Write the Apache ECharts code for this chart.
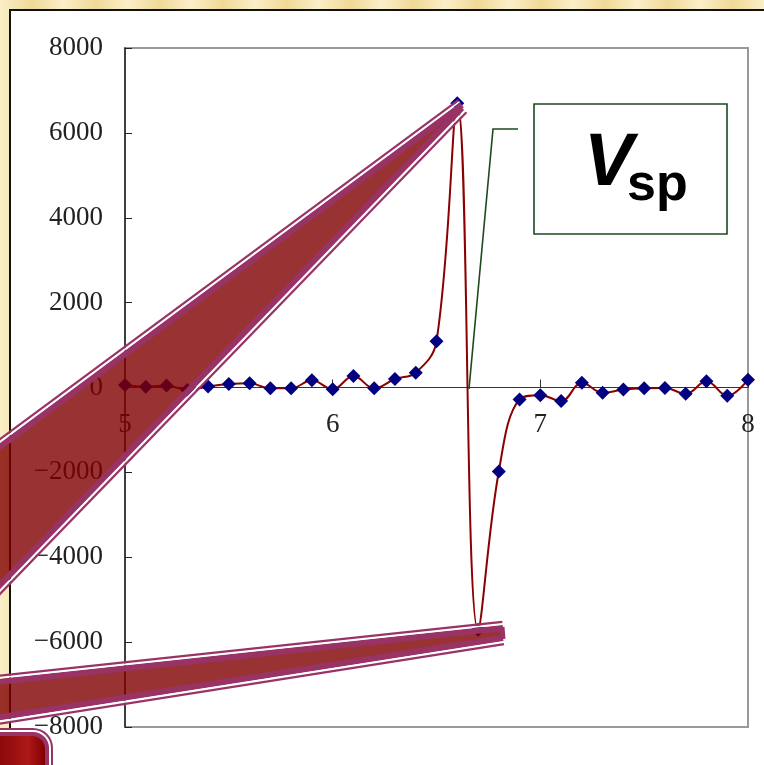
<!DOCTYPE html>
<html>
<head>
<meta charset="utf-8">
<script src="https://cdn.jsdelivr.net/npm/echarts@6/dist/echarts.min.js"></script>
<style>
html,body{margin:0;padding:0;background:#f5e3a8;}
#chart{width:764px;height:765px;}
</style>
</head>
<body>
<div id="chart"></div>
<script>
// ---- data ----
const xValues = [5.0, 5.1, 5.2, 5.3, 5.4, 5.5, 5.6, 5.7, 5.8, 5.9,
                 6.0, 6.1, 6.2, 6.3, 6.4, 6.5, 6.6, 6.7, 6.8, 6.9,
                 7.0, 7.1, 7.2, 7.3, 7.4, 7.5, 7.6, 7.7, 7.8, 7.9, 8.0];
const yValues = [60, 20, 50, -60, 25, 80, 100, -20, -20, 170,
                 -40, 270, -20, 200, 350, 1090, 6700, -5710, -1980, -280,
                 -180, -320, 110, -125, -47, -15, -10, -150, 145, -195, 185];
const xAxisRange = [5, 8, 1];
const yAxisRange = [-8000, 8000, 2000];
const calloutLabel = ['V', 'sp'];

const seriesData = xValues.map((x, i) => [x, yValues[i]]);

// ---- layout ----
const G = { left: 125, top: 48, right: 16, bottom: 38, W: 764, H: 765 };
const plotH = G.H - G.top - G.bottom;
const zeroOffset = -plotH * (0 - yAxisRange[0]) / (yAxisRange[1] - yAxisRange[0]);

// ---- decoration helpers ----
const MAG = '#993366';
function offLine(a, b, off, width, color, z) {
  const dx = b[0] - a[0], dy = b[1] - a[1];
  const len = Math.sqrt(dx * dx + dy * dy);
  const nx = -dy / len, ny = dx / len;
  return {
    type: 'line', z: z, silent: true,
    shape: { x1: a[0] + nx * off, y1: a[1] + ny * off, x2: b[0] + nx * off, y2: b[1] + ny * off },
    style: { stroke: color, lineWidth: width, lineCap: 'butt' }
  };
}
function band(a, b, side, z) {
  return [
    offLine(a, b, 0, 6, MAG, z),
    offLine(a, b, 4.2 * side, 1.8, '#ffffff', z),
    offLine(a, b, 6.2 * side, 2.2, MAG, z)
  ];
}

// slide background stripes
const stripeStops = [];
for (let i = 0; i <= 24; i++) {
  stripeStops.push({ offset: i / 24, color: i % 2 ? '#f0d998' : '#fbefc8' });
}

const graphics = [
  { type: 'rect', z: -20, silent: true, shape: { x: 0, y: 0, width: 764, height: 765 },
    style: { fill: new echarts.graphic.LinearGradient(0, 0, 1, 0, stripeStops) } },
  { type: 'rect', z: -19, silent: true, shape: { x: 10, y: 10, width: 800, height: 800 },
    style: { fill: '#ffffff', stroke: '#111', lineWidth: 2 } }
];

// big wedge
const T1u = [462, 105], T1l = [462, 108], U1 = [-30, 469], L1 = [-30, 616];
graphics.push({ type: 'polygon', z: 100, silent: true,
  shape: { points: [U1, T1u, T1l, L1] }, style: { fill: 'rgba(128,0,0,0.8)' } });
graphics.push(...band(U1, T1u, -1, 101));
graphics.push(...band(L1, T1l, 1, 101));

// small wedge
const T2u = [503, 628], T2l = [503, 638], U2 = [-30, 685], L2 = [-30, 722];
graphics.push({ type: 'polygon', z: 100, silent: true,
  shape: { points: [U2, T2u, T2l, L2] }, style: { fill: 'rgba(128,0,0,0.8)' } });
graphics.push(...band(U2, T2u, -1, 101));
graphics.push(...band(L2, T2l, 1, 101));
graphics.push({ type: 'line', z: 101, silent: true, shape: { x1: 502, y1: 627, x2: 503, y2: 639 },
  style: { stroke: MAG, lineWidth: 5 } });

// bottom-left rounded block
graphics.push({ type: 'rect', z: 100, silent: true, shape: { x: -30, y: 728, width: 83, height: 80, r: 20 },
  style: { fill: MAG } });
graphics.push({ type: 'rect', z: 101, silent: true, shape: { x: -28, y: 730, width: 79, height: 80, r: 18 },
  style: { fill: '#ffffff' } });
graphics.push({ type: 'rect', z: 102, silent: true, shape: { x: -26, y: 732, width: 75, height: 80, r: 16 },
  style: { fill: MAG } });
graphics.push({ type: 'rect', z: 103, silent: true, shape: { x: -24, y: 736, width: 69, height: 80, r: 13 },
  style: { fill: new echarts.graphic.LinearGradient(0, 0, 1, 0, [
    { offset: 0, color: '#7a0000' }, { offset: 0.55, color: '#9a1010' },
    { offset: 0.75, color: '#b01818' }, { offset: 1, color: '#800000' }]) } });

// green callout
graphics.push({ type: 'polyline', z: 90, silent: true,
  shape: { points: [[469, 389], [493, 129], [518, 129]] },
  style: { stroke: '#1d4a1d', lineWidth: 1.6, fill: null } });
graphics.push({ type: 'rect', z: 90, silent: true, shape: { x: 534, y: 104, width: 193, height: 130 },
  style: { fill: '#ffffff', stroke: '#1d4a1d', lineWidth: 1.6 } });
graphics.push({ type: 'text', z: 91, silent: true,
  style: { x: 584, y: 165, text: calloutLabel[0], fill: '#000',
    font: 'italic bold 74px "Liberation Sans", Arial, sans-serif',
    textAlign: 'left', textVerticalAlign: 'middle' } });
graphics.push({ type: 'text', z: 91, silent: true,
  style: { x: 627, y: 186, text: calloutLabel[1], fill: '#000',
    font: 'bold 52px "Liberation Sans", Arial, sans-serif',
    textAlign: 'left', textVerticalAlign: 'middle' } });

const chart = echarts.init(document.getElementById('chart'), null, { renderer: 'canvas' });
const labelFont = { fontFamily: '"Liberation Serif", "DejaVu Serif", serif', fontSize: 27, color: '#222' };
chart.setOption({
  backgroundColor: 'transparent',
  animation: false,
  grid: { left: G.left, top: G.top, right: G.right, bottom: G.bottom, show: true,
          borderColor: '#999', borderWidth: 2, backgroundColor: 'transparent',
          containLabel: false, outerBoundsMode: 'none' },
  xAxis: {
    type: 'value', min: xAxisRange[0], max: xAxisRange[1], interval: xAxisRange[2],
    position: 'bottom', offset: zeroOffset,
    axisLine: { onZero: false, lineStyle: { color: '#333', width: 1.2 } },
    axisTick: { show: true, inside: true, length: 8, lineStyle: { color: '#333' } },
    axisLabel: Object.assign({ margin: 24 }, labelFont),
    splitLine: { show: false }
  },
  yAxis: {
    type: 'value', min: yAxisRange[0], max: yAxisRange[1], interval: yAxisRange[2],
    axisLine: { show: true, onZero: false, lineStyle: { color: '#222', width: 1.5 } },
    axisTick: { show: true, inside: true, length: 7, lineStyle: { color: '#222' } },
    axisLabel: Object.assign({ margin: 22, formatter: v => v < 0 ? '\u2212' + Math.abs(v) : String(v) }, labelFont),
    splitLine: { show: false }
  },
  series: [{
    type: 'line', data: seriesData, smooth: 0.4,
    symbol: 'diamond', symbolSize: 14, showAllSymbol: true,
    itemStyle: { color: '#000080' },
    lineStyle: { color: '#8b0000', width: 2 },
    z: 5
  }],
  graphic: graphics
});
</script>
</body>
</html>
